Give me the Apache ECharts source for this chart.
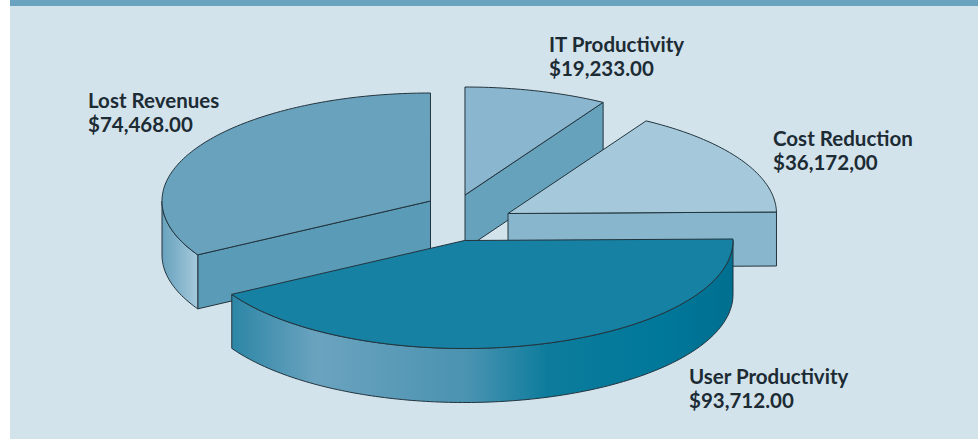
<!DOCTYPE html>
<html>
<head>
<meta charset="utf-8">
<style>
  html, body { margin: 0; padding: 0; background: #fff; }
  #chart { width: 980px; height: 439px; }
  #chart text { font-variant-ligatures: none; }
</style>
</head>
<body>
<div id="chart"></div>
<script src="https://cdn.jsdelivr.net/npm/echarts@6/dist/echarts.min.js"></script>
<script>
// in drawing order (User Productivity sits in front)
const categories = ['Lost Revenues', 'IT Productivity', 'Cost Reduction', 'User Productivity'];
const values = [74468, 19233, 36172, 93712];
const amountLabels = ['$74,468.00', '$19,233.00', '$36,172,00', '$93,712.00'];

// slice placement and look
const origins = [[430.5, 201], [465, 195], [508, 213.5], [464.5, 240.5]];
const labelPos = [[88, 87.5], [549, 32], [773, 126], [689, 364]];
const topColors = ['#69a2bd', '#8ab7cf', '#a5c9da', '#1681a2'];
const wallColors = ['#5a9bb7', '#67a2bd', '#88b6cd', '#1681a2'];
const rimStops = [
  [[0, '#69a2bd'], [0.45, '#82b3cb'], [1, '#a6c9db']],
  null,
  null,
  [[0, '#2c86a6'], [0.17, '#6ba3bf'], [0.47, '#4a93b1'], [0.63, '#0d7c9c'], [0.85, '#00789a'], [1, '#006f90']]
];

const RX = 268.5;
const RY = 108;
const DEPTH = 54;
const LINE = '#22343e';
const ZERO_ANGLE = -0.8;

const total = values.reduce((a, b) => a + b, 0);
const toAngle = v => echarts.number.linearMap(v, [0, total], [0, 360]);
// the front slice starts at the right hand side, the others follow it clockwise
const firstStart = ZERO_ANGLE + toAngle(values[values.length - 1]);

function onEllipse(o, deg, drop) {
  const r = deg * Math.PI / 180;
  return [o[0] + RX * Math.cos(r), o[1] + RY * Math.sin(r) + (drop || 0)];
}

function arc(o, from, to, drop) {
  const pts = [];
  const n = Math.max(2, Math.ceil(Math.abs(to - from)));
  for (let i = 0; i <= n; i++) {
    pts.push(onEllipse(o, from + (to - from) * i / n, drop));
  }
  return pts;
}

function poly(points, fill, z2) {
  return {
    type: 'polygon',
    z2: z2,
    shape: { points: points },
    style: { fill: fill, stroke: LINE, lineWidth: 1, lineJoin: 'round' }
  };
}

function renderSlice(params, api) {
  const i = params.dataIndex;
  const before = values.slice(0, i).reduce((a, b) => a + b, 0);
  const a = firstStart + toAngle(before);
  const b = a + toAngle(api.value(0));
  const o = origins[i];
  const base = (i + 1) * 10;
  const children = [];

  // cut faces that look toward the viewer
  [a, b].forEach((deg, k) => {
    const c = Math.cos(deg * Math.PI / 180);
    if ((k === 0 ? -c : c) > 0.01) {
      const p = onEllipse(o, deg);
      children.push(poly([o, p, [p[0], p[1] + DEPTH], [o[0], o[1] + DEPTH]], wallColors[i], base));
    }
  });

  // outer rim, only the front half of the ellipse
  [0, 360].forEach(shift => {
    const from = Math.max(a, shift);
    const to = Math.min(b, shift + 180);
    if (to > from) {
      const pts = arc(o, from, to).concat(arc(o, to, from, DEPTH));
      const fill = rimStops[i]
        ? new echarts.graphic.LinearGradient(0, 0, 1, 0, rimStops[i].map(s => ({ offset: s[0], color: s[1] })))
        : wallColors[i];
      children.push(poly(pts, fill, base + 1));
    }
  });

  children.push(poly([o].concat(arc(o, a, b)), topColors[i], base + 2));

  children.push({
    type: 'text',
    z2: 100,
    x: labelPos[i][0],
    y: labelPos[i][1],
    style: {
      text: categories[i] + '\n' + amountLabels[i],
      fill: '#1c2b34',
      font: 'bold 20.5px Lato, "Open Sans", sans-serif',
      lineHeight: 24,
      align: 'left',
      verticalAlign: 'top'
    }
  });

  return { type: 'group', children: children };
}

const chart = echarts.init(document.getElementById('chart'), null, { renderer: 'svg' });
chart.setOption({
  animation: false,
  backgroundColor: '#ffffff',
  graphic: [
    { type: 'rect', z: -10, shape: { x: 10, y: 0, width: 968, height: 439 }, style: { fill: '#d3e3ec' } },
    { type: 'rect', z: -9, shape: { x: 10, y: 0, width: 968, height: 6 }, style: { fill: '#6aa3bf' } }
  ],
  series: [{
    type: 'custom',
    coordinateSystem: 'none',
    silent: true,
    data: values,
    renderItem: renderSlice
  }]
});
</script>
</body>
</html>
